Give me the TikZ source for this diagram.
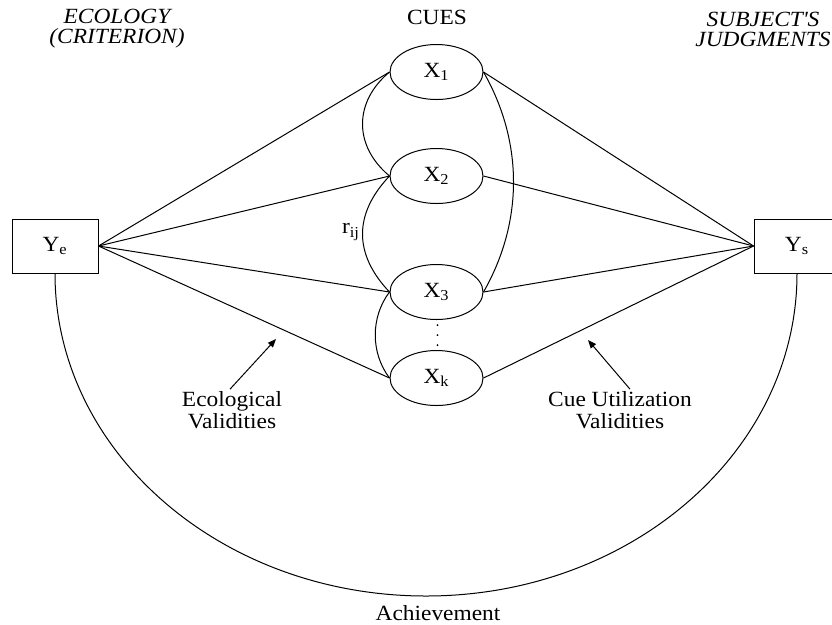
\documentclass[tikz,border=0pt]{standalone}
\usepackage{fontspec}
\setmainfont{Liberation Serif}[FakeStretch=1.08]
\usetikzlibrary{shapes.geometric,arrows.meta}

\begin{document}
\begin{tikzpicture}[x=0.6pt, y=-0.6pt, line width=0.6pt,
        every node/.style={font=\fontsize{13}{13}\selectfont},
        cuebox/.style={draw, minimum width=51.6pt, minimum height=32.4pt, inner sep=0},
        cue/.style={shape=ellipse, draw, minimum width=55.8pt, minimum height=33pt, inner sep=0},
        heading/.style={align=center, inner sep=1pt, font=\fontsize{13}{12}\selectfont\itshape},
        valtext/.style={align=center, inner sep=1pt, font=\fontsize{13}{13.2}\selectfont},
        pointer/.style={-{Triangle[length=5pt, width=4pt]}}]
        \useasboundingbox (0,0) rectangle (832,624);
        % headings
        \node[heading] (eco) at (117,29) {ECOLOGY\\(CRITERION)};
        \node (cues) at (437,17) {CUES};
        \node[heading] (subj) at (763,29) {SUBJECT\textquotesingle S\\JUDGMENTS};
        % criterion, judgment and cues
        \node[cuebox] (Ye) at (55,246) {Y\textsubscript{e}};
        \node[cuebox] (Ys) at (797,246) {Y\textsubscript{s}};
        \node[cue] (X1) at (436.5,72) {X\textsubscript{1}};
        \node[cue] (X2) at (436.5,176) {X\textsubscript{2}};
        \node[cue] (X3) at (436.5,292) {X\textsubscript{3}};
        \node[cue] (Xk) at (436.5,378) {X\textsubscript{k}};
        \foreach \y in {325,335,345}
            \fill (437.5,\y) circle (0.6pt);
        \foreach \c in {X1,X2,X3,Xk} {
            \draw (Ye.east) -- (\c.west);
            \draw (\c.east) -- (Ys.west);
        }
        % intercorrelations
        \draw (X1.west) .. controls +(-36,30) and +(-36,-30) .. (X2.west);
        \draw (X2.west) .. controls +(-36,38) and +(-36,-38) .. (X3.west);
        \draw (X3.west) .. controls +(-19,25) and +(-19,-25) .. (Xk.west);
        \draw (X1.east) .. controls +(40,70) and +(40,-70) .. (X3.east);
        \node (rij) at (351,232) {r\textsubscript{ij}};
        % validities
        \node[valtext] (ecoval) at (232,410) {Ecological\\Validities};
        \coordinate (ecotip) at (276,339);
        \draw[pointer] ([xshift=-1.2pt]ecoval.north) -- (ecotip);
        \node[valtext] (cueval) at (620,410) {Cue Utilization\\Validities};
        \coordinate (cuetip) at (588,340);
        \draw[pointer] ([xshift=6pt]cueval.north) -- (cuetip);
        % achievement
        \coordinate (low) at (426,596);
        \draw (Ye.south) .. controls +(0,178) and +(-205,0) .. (low)
            .. controls +(205,0) and +(0,178) .. (Ys.south);
        \node (ach) at (438,613) {Achievement};
\end{tikzpicture}
\end{document}
